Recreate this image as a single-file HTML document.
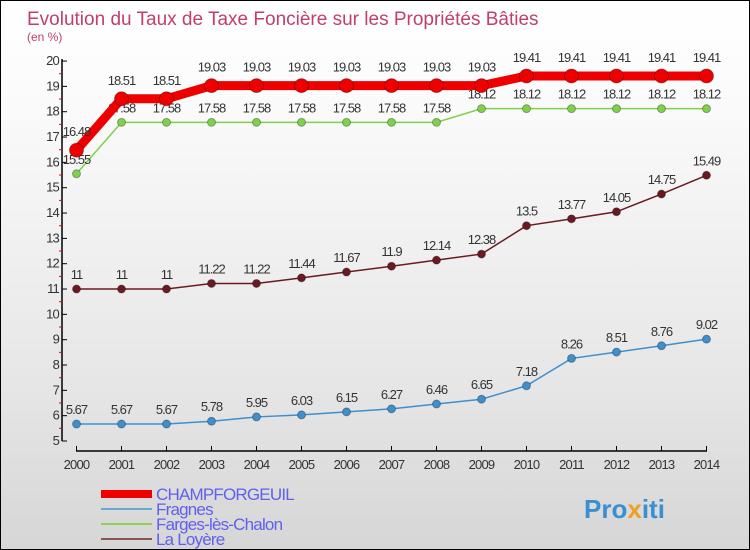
<!DOCTYPE html>
<html><head><meta charset="utf-8"><style>
body{margin:0;}
#c{width:750px;height:550px;position:relative;overflow:hidden;box-sizing:border-box;border:1px solid #000;background:linear-gradient(#ffffff,#fafafa 20%,#e6e6e6 70%,#d6d6d6);font-family:"Liberation Sans",sans-serif;}
</style></head><body>
<div id="c">
<svg id="s" width="750" height="550" style="position:absolute;left:0;top:0"></svg>
</div>
<script>
const years=[2000,2001,2002,2003,2004,2005,2006,2007,2008,2009,2010,2011,2012,2013,2014];
const champ=[16.48,18.51,18.51,19.03,19.03,19.03,19.03,19.03,19.03,19.03,19.41,19.41,19.41,19.41,19.41];
const fragnes=[5.67,5.67,5.67,5.78,5.95,6.03,6.15,6.27,6.46,6.65,7.18,8.26,8.51,8.76,9.02];
const farges=[15.55,17.58,17.58,17.58,17.58,17.58,17.58,17.58,17.58,18.12,18.12,18.12,18.12,18.12,18.12];
const loyere=[11,11,11,11.22,11.22,11.44,11.67,11.9,12.14,12.38,13.5,13.77,14.05,14.75,15.49];
const yTicks=[5,6,7,8,9,10,11,12,13,14,15,16,17,18,19,20];
const NS="http://www.w3.org/2000/svg";
const s=document.getElementById('s');
function X(i){return 75.5+i*45;}
function Y(v){return 440-(v-5)*25.33;}
function el(t,a,p){const e=document.createElementNS(NS,t);for(const k in a)e.setAttribute(k,a[k]);(p||s).appendChild(e);return e;}
function tx(x,y,str,a,p){const e=el('text',Object.assign({x:x,y:y},a),p);e.textContent=str;return e;}
let t=tx(26,24,'Evolution du Taux de Taxe Foncière sur les Propriétés Bâties',{fill:'#c0406a','font-size':19});

t=tx(26,40,'(en %)',{fill:'#c0406a','font-size':12});

let a=el('line',{x1:61,y1:58,x2:61,y2:440,stroke:'#000','stroke-width':1.5});

a=el('line',{x1:75,y1:450,x2:706,y2:450,stroke:'#000','stroke-width':1.5});

yTicks.forEach(v=>{
 el('line',{x1:61,y1:Y(v),x2:66,y2:Y(v),stroke:'#000'});
 if(v<20) el('line',{x1:58,y1:Y(v+0.5),x2:61,y2:Y(v+0.5),stroke:'#e00'});
 const l=tx(58,Y(v)+4,String(v),{'font-size':13,fill:'#333','text-anchor':'end','letter-spacing':'-0.8'});
 
});
years.forEach((yr,i)=>{
 el('line',{x1:X(i),y1:445,x2:X(i),y2:450,stroke:'#000'});
 const l=tx(X(i),468,String(yr),{'font-size':13,fill:'#333','text-anchor':'middle','letter-spacing':'-0.8'});
 
});
function series(data,color,w,r,name,lab){
 const g=el('g',{});
 
 el('polyline',{points:data.map((v,i)=>X(i)+','+Y(v)).join(' '),fill:'none',stroke:color,'stroke-width':w},g);
 data.forEach((v,i)=>{
  const c=el('circle',{cx:X(i),cy:Y(v),r:r,fill:color,stroke:'rgba(0,0,0,0.3)','stroke-width':1},g);
  
  const l=tx(X(i),Y(v)-lab,String(v),{'font-size':13,fill:'#333','text-anchor':'middle','letter-spacing':'-1'},g);
  
 });
}
series(fragnes,'#3f8fcc',1.5,4,'fragnes',10);
series(loyere,'#6a1a22',1.5,4,'la-loyere',10);
series(farges,'#7fd04a',1.5,4,'farges',10);
series(champ,'#ee0000',9,7,'champforgeuil',14);
const leg=[['CHAMPFORGEUIL','#ee0000',8],['Fragnes','#6aa8d0',2],['Farges-lès-Chalon','#8fd060',2],['La Loyère','#8b5555',2]];
leg.forEach((e,i)=>{
 const y=493+i*15;
 const g=el('g',{});
 
 el('line',{x1:100,y1:y,x2:151,y2:y,stroke:e[1],'stroke-width':e[2]},g);
 tx(155,y+6,e[0],{'font-size':17,fill:'#6060ee','letter-spacing':'-0.8'},g);
});
const p=el('text',{x:583,y:517,'font-size':26,'font-weight':'bold'});

[['Pro','#3a8fd0'],['x','#f0a020'],['iti','#3a8fd0']].forEach(q=>{const ts=el('tspan',{fill:q[1]},p);ts.textContent=q[0];});
</script>
</body></html>
